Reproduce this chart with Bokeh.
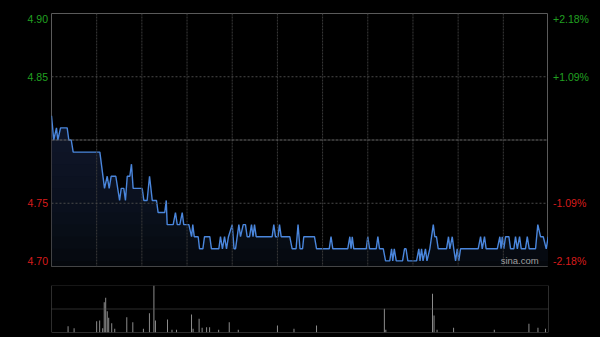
import numpy as np
from bokeh.plotting import figure
from bokeh.layouts import column, row
from bokeh.models import Range1d, Span, Label
from bokeh.core.properties import value
from bokeh.embed import file_html
from bokeh.resources import INLINE

# ---- data ----
prev_close = 4.80
minutes = [0, 1.5, 3.3, 4.2, 6.0, 10.4, 11.5, 13.1, 14.4, 32.1, 35.2, 37.0, 38.3, 39.6, 42.7,
           45.2, 46.3, 48.0, 49.1, 50.3, 52.0, 53.1, 54.2, 60.2, 61.3, 63.5, 65.1, 66.9, 69.7,
           70.8, 75.2, 76.2, 76.8, 80.8, 82.3, 83.5, 85.2, 86.8, 87.8, 91.2, 93.0, 93.8, 94.8,
           97.4, 98.3, 100.5, 101.6, 105.1, 106.2, 111.1, 112.2, 113.5, 114.9, 116.2, 117.5,
           120.0, 121.2, 122.2, 124.4, 125.5, 127.3, 128.8, 129.9, 131.5, 132.8, 133.8, 134.8,
           135.9, 146.5, 147.6, 148.7, 150.4, 151.4, 152.5, 158.2, 159.8, 162.4, 163.7, 165.0,
           166.7, 167.5, 174.6, 176.0, 184.4, 185.6, 186.8, 196.7, 198.1, 198.9, 199.7, 200.7,
           209.0, 210.0, 211.2, 215.6, 216.7, 217.8, 220.3, 221.8, 224.6, 225.8, 226.6, 227.6,
           228.9, 233.1, 234.4, 235.4, 236.6, 242.4, 243.9, 244.7, 245.7, 246.7, 248.3, 249.3,
           251.2, 253.5, 254.5, 255.6, 256.8, 262.3, 263.6, 264.5, 266.1, 267.1, 268.3, 269.4,
           270.4, 271.6, 283.3, 284.9, 286.0, 287.5, 288.6, 296.0, 297.7, 298.5, 299.3, 300.3,
           301.5, 303.7, 304.8, 307.0, 308.1, 309.3, 310.8, 311.9, 314.7, 315.9, 317.2, 321.4,
           322.9, 324.7, 326.5, 328.5, 329.8]
prices = [4.82, 4.80, 4.81, 4.80, 4.81, 4.81, 4.80, 4.80, 4.79, 4.79, 4.76, 4.77, 4.76, 4.77, 4.77,
          4.75, 4.76, 4.76, 4.75, 4.77, 4.77, 4.78, 4.76, 4.76, 4.75, 4.75, 4.77, 4.75, 4.75,
          4.74, 4.74, 4.75, 4.73, 4.73, 4.74, 4.73, 4.73, 4.74, 4.73, 4.73, 4.72, 4.73, 4.72,
          4.72, 4.71, 4.71, 4.72, 4.72, 4.71, 4.71, 4.72, 4.71, 4.72, 4.71, 4.72,
          4.73, 4.71, 4.71, 4.73, 4.72, 4.73, 4.73, 4.72, 4.72, 4.73, 4.72, 4.73,
          4.72, 4.72, 4.73, 4.72, 4.72, 4.73, 4.72, 4.72, 4.71, 4.71, 4.73, 4.71,
          4.71, 4.72, 4.72, 4.71, 4.71, 4.72, 4.71, 4.71, 4.72, 4.71, 4.72, 4.71,
          4.71, 4.72, 4.71, 4.71, 4.72, 4.71, 4.71, 4.70, 4.70, 4.71, 4.70, 4.71,
          4.70, 4.70, 4.71, 4.71, 4.70, 4.70, 4.71, 4.70, 4.71, 4.70, 4.71, 4.70,
          4.71, 4.73, 4.72, 4.72, 4.71, 4.71, 4.72, 4.71, 4.72, 4.71, 4.70, 4.71,
          4.70, 4.71, 4.71, 4.72, 4.71, 4.72, 4.71, 4.71, 4.72, 4.71, 4.72, 4.71,
          4.72, 4.72, 4.71, 4.71, 4.72, 4.71, 4.72, 4.71, 4.71, 4.72, 4.71, 4.71,
          4.73, 4.72, 4.72, 4.71, 4.72]

vol_minutes = [11, 15, 30, 32, 34, 35, 36, 37, 38, 40, 42, 50, 54, 61, 65, 68, 69, 77, 80, 83,
               93, 94, 98, 100, 103, 105, 111, 118, 124, 150, 161, 176, 221, 222, 253, 254,
               256, 267, 294, 317, 323, 328]
volumes = [63, 43, 113, 120, 43, 303, 347, 213, 147, 93, 37, 153, 103, 37, 193, 470, 120, 130,
           27, 27, 180, 37, 137, 47, 53, 53, 27, 103, 27, 70, 37, 70, 237, 27, 387, 170,
           27, 47, 27, 87, 47, 37]

left_labels = ["4.90", "4.85", "4.75", "4.70"]
right_labels = ["+2.18%", "+1.09%", "-1.09%", "-2.18%"]
label_pcts = [0.0218, 0.0109, -0.0109, -0.0218]

# ---- figures ----
span_pct = 0.0218
y_lo = prev_close * (1 - span_pct)
y_hi = prev_close * (1 + span_pct)
BG = "#000000"
FONT = "Liberation Sans"
GREEN = "#20a020"
RED = "#d81c1c"

yr = Range1d(y_lo, y_hi)


def base_fig(w, h, xr, yrng, **kw):
    f = figure(width=w, height=h, x_range=xr, y_range=yrng, output_backend="svg",
               toolbar_location=None, background_fill_color=BG, border_fill_color=BG, **kw)
    f.xaxis.visible = False
    f.yaxis.visible = False
    f.xgrid.visible = False
    f.ygrid.visible = False
    f.outline_line_color = None
    return f


p = base_fig(497, 275, Range1d(0, 330), yr,
             min_border_left=0, min_border_right=0, min_border_top=13, min_border_bottom=9)
p.outline_line_color = "#5a5a5a"
p.outline_line_width = 1

# gradient-like fill under the line
mx = np.array(minutes, dtype=float)
py = np.array(prices, dtype=float)
levels = [4.70, 4.71, 4.72, 4.73, 4.74, 4.75, 4.76, 4.77, 4.78, 4.79]
p.varea(x=mx, y1=np.full_like(py, y_lo), y2=py, fill_color="#05080d", fill_alpha=1.0)
for lv in levels:
    p.varea(x=mx, y1=np.full_like(py, lv), y2=np.maximum(py, lv), fill_color="#1a2a44", fill_alpha=0.075)

# grid lines
for m in range(30, 330, 30):
    p.add_layout(Span(location=m, dimension="height", line_color="#3a3a3a",
                      line_dash="2 1", line_width=1))
for pct in (0.0109, -0.0109):
    p.add_layout(Span(location=prev_close * (1 + pct), dimension="width",
                      line_color="#4a4a4a", line_dash="2 2", line_width=1))
p.add_layout(Span(location=prev_close, dimension="width", line_color="#6a6a6a",
                  line_dash="3 1", line_width=1))

p.line(mx, py, line_color="#4a86dc", line_width=1.4)

p.add_layout(Label(x=323.5, y=4.70, text="sina.com", text_align="right", text_baseline="middle",
                   text_color="#a0a0a0", text_font=FONT, text_font_size="9.5px"))

# label positions (data y)
label_y = [float(t) if abs(pc) > 0.015 else prev_close * (1 + pc)
           for t, pc in zip(left_labels, label_pcts)]
label_col = [GREEN if pc > 0 else RED for pc in label_pcts]

pl = base_fig(51, 275, Range1d(0, 51), yr,
              min_border_left=0, min_border_right=0, min_border_top=13, min_border_bottom=9)
pl.text(x=[47.5] * 4, y=label_y, text=left_labels, text_color=label_col,
        text_align="right", text_baseline="middle",
        text_font=value(FONT), text_font_size="10.5px")

pr = base_fig(52, 275, Range1d(0, 52), yr,
              min_border_left=0, min_border_right=0, min_border_top=13, min_border_bottom=9)
pr.text(x=[4.5] * 4, y=label_y, text=right_labels, text_color=label_col,
        text_align="left", text_baseline="middle",
        text_font=value(FONT), text_font_size="10.5px")

# volume panel
vmax = max(volumes)
q = base_fig(600, 62, p.x_range, Range1d(0, vmax),
             min_border_left=51, min_border_right=52, min_border_top=10, min_border_bottom=5)

q.add_layout(Span(location=vmax, dimension="width", line_color="#5a5a5a", line_dash="1 1", line_width=1))
q.add_layout(Span(location=vmax / 2, dimension="width", line_color="#5a5a5a", line_dash="1 1", line_width=1))
q.add_layout(Span(location=0, dimension="width", line_color="#5a5a5a", line_width=1))
q.add_layout(Span(location=0, dimension="height", line_color="#5a5a5a", line_width=1))
q.add_layout(Span(location=330, dimension="height", line_color="#5a5a5a", line_width=1))

q.vbar(x=vol_minutes, top=volumes, bottom=0, width=0.6, fill_color="#9a9a9a", line_color=None)

layout = column(row(pl, p, pr, spacing=0), q, spacing=0, background=BG)
html = file_html(layout, INLINE)
html = html.replace("<body>", '<body style="margin:0;background:#000;">')
open("out.html", "w").write(html)
